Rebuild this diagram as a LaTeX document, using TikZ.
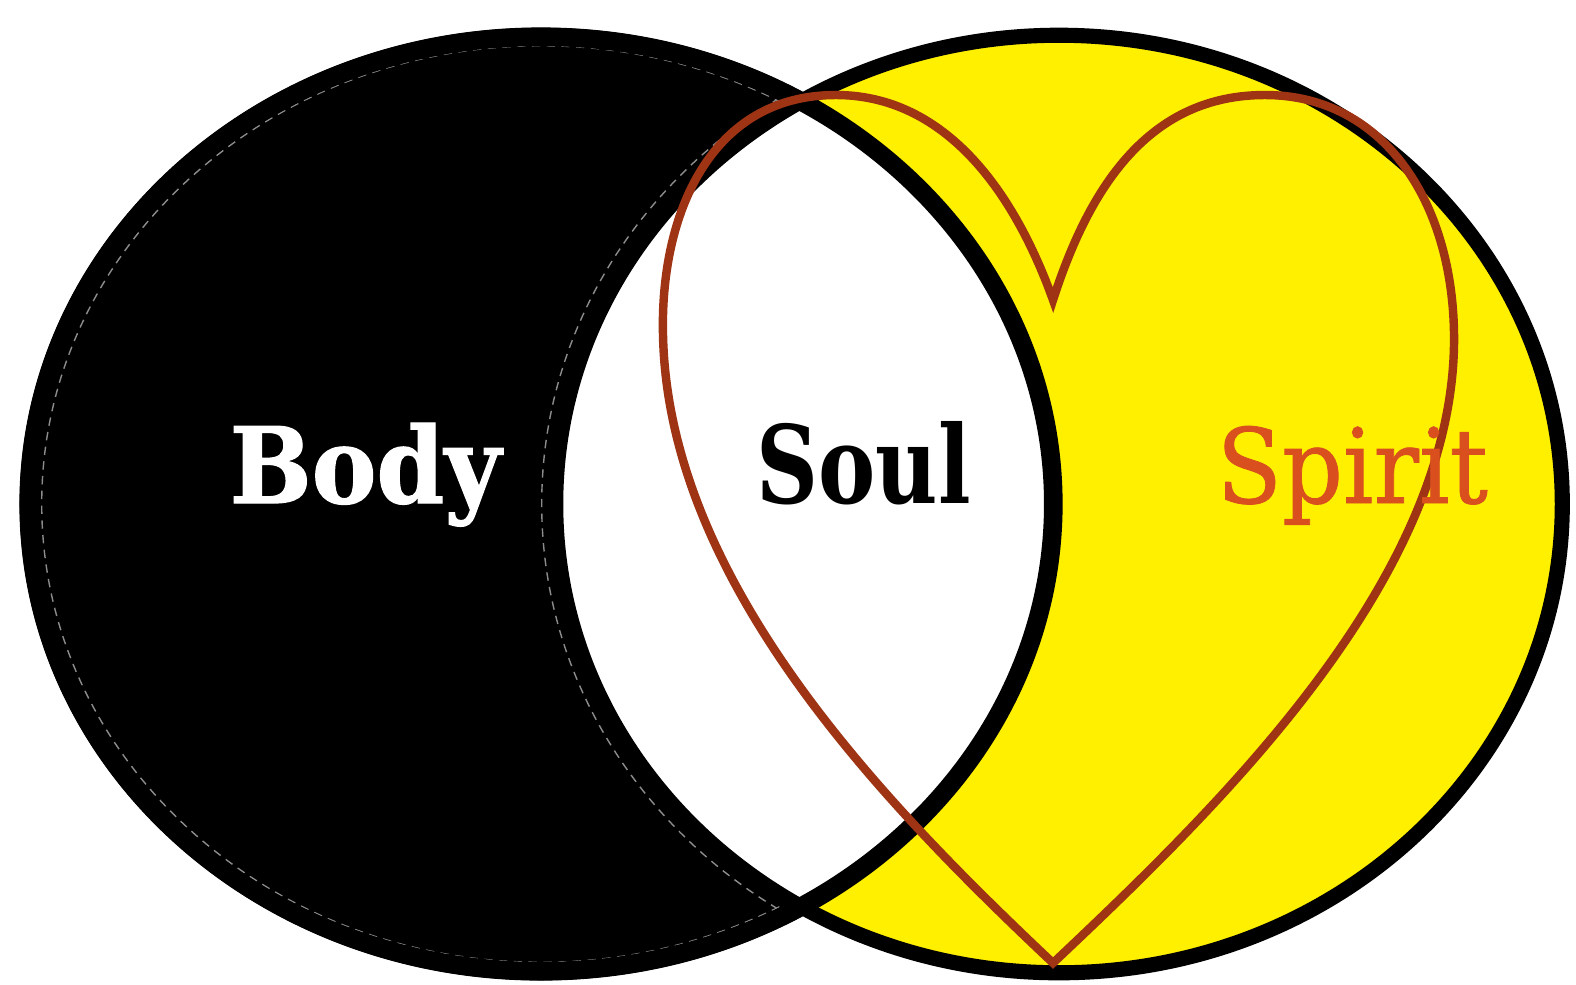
\documentclass[tikz,border=0pt]{standalone}
\usepackage{fontspec}
\setmainfont{DejaVu Serif}
\newfontfamily\heavyfont[FakeBold=1.2]{DejaVu Serif Bold}
\newfontfamily\spiritfont[FakeBold=0.8]{DejaVu Serif}
\usepackage{graphicx}
\definecolor{venyellow}{RGB}{255,240,0}
\definecolor{heartbrown}{RGB}{158,52,20}
\definecolor{spiritorange}{RGB}{217,80,30}
\tikzset{
  innerdash/.style={draw=black!45, line width=0.4pt, dash pattern=on 2.4pt off 1.8pt},
  heartline/.style={draw=heartbrown, line width=2.4pt, line join=miter},
  label/.style={inner sep=0pt, anchor=base west}
}
\begin{document}
\begin{tikzpicture}[x=0.01cm,y=-0.01cm]
\useasboundingbox (0,0) rectangle (1576,984);
\fill[white] (0,0) rectangle (1576,984);
% centres
\coordinate (lc) at (541,504);
\coordinate (rc) at (1059,504);
% left circle (Body)
\fill[black] (lc) ellipse [x radius=5.12cm, y radius=4.67cm];
\draw[line width=5.1pt] (lc) ellipse [x radius=5.12cm, y radius=4.67cm];
% faint dashed inner outline of the black crescent
\begin{scope}
  \clip (lc) ellipse [x radius=4.99cm, y radius=4.58cm];
  \draw[innerdash] (rc) ellipse [x radius=5.17cm, y radius=4.82cm];
\end{scope}
\draw[innerdash] (lc) ellipse [x radius=4.99cm, y radius=4.58cm];
% right circle (Spirit)
\fill[venyellow] (rc) ellipse [x radius=5.03cm, y radius=4.685cm];
% lens (Soul)
\begin{scope}
  \clip (lc) ellipse [x radius=5.12cm, y radius=4.67cm];
  \fill[white] (rc) ellipse [x radius=5.03cm, y radius=4.685cm];
\end{scope}
\draw[line width=4.3pt] (rc) ellipse [x radius=5.03cm, y radius=4.685cm];
\draw[line width=5.3pt] (lc) ellipse [x radius=5.12cm, y radius=4.67cm];
% heart
\coordinate (dip) at (1053,300);
\coordinate (tip) at (1053,963);
\coordinate (ltop) at (836,95);
\coordinate (rtop) at (1265,95);
\coordinate (lext) at (663,335);
\coordinate (rext) at (1454,345);
\draw[heartline] (dip) .. controls (1008,175) and (935,95) .. (ltop)
  .. controls (710,95) and (660,215) .. (lext)
  .. controls (668,580) and (880,800) .. (tip)
  .. controls (1226,800) and (1450,580) .. (rext)
  .. controls (1456,205) and (1385,95) .. (rtop)
  .. controls (1150,95) and (1090,185) .. (dip) -- cycle;
% labels
\node[label, text=white] (body) at (229,503) {\resizebox{2.71cm}{0.80cm}{\heavyfont Body}};
\node[label, text=black] (soul) at (756,503) {\resizebox{2.14cm}{0.82cm}{\bfseries Soul}};
\node[label, text=spiritorange] (spirit) at (1216,503) {\resizebox{2.71cm}{0.77cm}{\spiritfont Spirit}};
\end{tikzpicture}
\end{document}
